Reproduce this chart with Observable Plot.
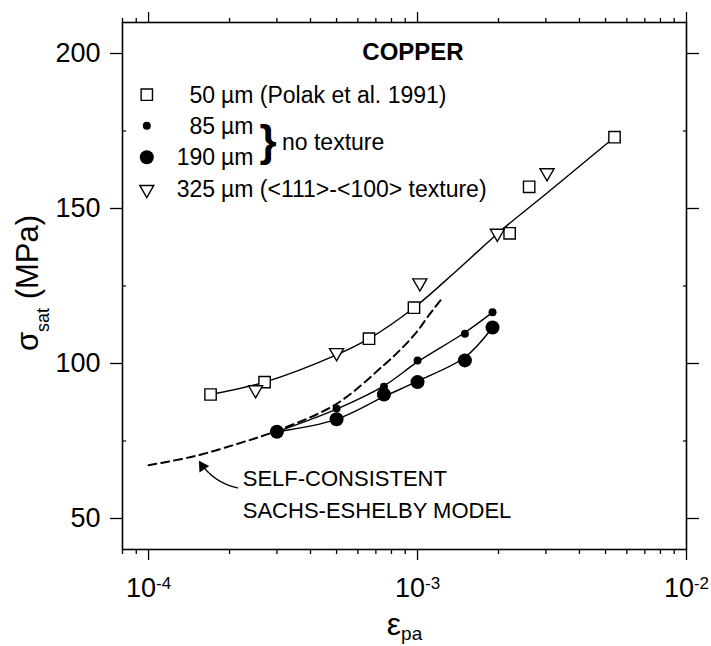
<!DOCTYPE html>
<html><head><meta charset="utf-8">
<script src="https://cdn.jsdelivr.net/npm/d3@7"></script>
<script src="https://cdn.jsdelivr.net/npm/@observablehq/plot@0.6"></script>
<style>body{margin:0;background:#fff} svg{display:block}</style>
</head><body><div id="chart"></div>
<script>
// ---- tick values ----
const xMajorTicks = [1e-4, 1e-3, 1e-2];
const xMinorTicks = [8e-5, 9e-5, 2e-4, 3e-4, 4e-4, 5e-4, 6e-4, 7e-4, 8e-4, 9e-4,
                     2e-3, 3e-3, 4e-3, 5e-3, 6e-3, 7e-3, 8e-3, 9e-3];
const yMajorTicks = [50, 100, 150, 200];
const yMinorTicks = [75, 125, 175];

// ---- measured data ----
const sq50X  = [1.7e-4, 2.7e-4, 6.6e-4, 9.7e-4, 2.2e-3, 2.6e-3, 5.4e-3];
const sq50Y  = [90, 94, 108, 118, 142, 157, 173];
const tri325X = [2.5e-4, 5.0e-4, 1.02e-3, 1.98e-3, 3.03e-3];
const tri325Y = [91.5, 103.5, 126, 142, 161.5];
const dot85X = [5e-4, 7.5e-4, 1e-3, 1.5e-3, 1.9e-3];
const dot85Y = [85.5, 92.5, 101, 109.6, 116.5];
const dot190X = [3e-4, 5e-4, 7.5e-4, 1e-3, 1.5e-3, 1.9e-3];
const dot190Y = [78, 82, 90, 94, 101, 111.6];

// ---- fitted curves ----
const fitAX = [1.7e-4, 2.7e-4, 5e-4, 6.6e-4, 9.7e-4, 1.4e-3, 2.07e-3, 3.0e-3, 5.4e-3];
const fitAY = [90, 94, 102.8, 108, 118, 130, 143.3, 154.7, 173];
const fitBX = [3e-4, 5e-4, 7.5e-4, 1e-3, 1.5e-3, 1.9e-3];
const fitBY = [78, 85.3, 92.8, 100.5, 110, 116.5];
const fitCX = [3e-4, 5e-4, 7.5e-4, 1e-3, 1.5e-3, 1.9e-3];
const fitCY = [78, 82, 89.3, 94.3, 102, 111.6];

// ---- self-consistent Sachs-Eshelby model (dashed) ----
const modelX = [1e-4, 1.48e-4, 2.2e-4, 3e-4, 5e-4, 7.5e-4, 8.9e-4, 1e-3, 1.09e-3, 1.22e-3];
const modelY = [67.2, 70.1, 74.4, 78.3, 87, 99.5, 105.6, 110.5, 115, 120.5];

// ---- texts ----
const titleText = "COPPER";
const legendNumbers = ["50", "85", "190", "325"];
const legendRest = ["µm (Polak et al. 1991)", "µm", "µm", "µm (<111>-<100> texture)"];
const legendSymbols = ["square", "smalldot", "bigdot", "triangle"];
const braceText = "no texture";
const annotationLines = ["SELF-CONSISTENT", "SACHS-ESHELBY MODEL"];

// ---- annotation anchors (data units) ----
const annotationLineY = [62.7, 52.4];
const annotationX = 2.24e-4;
const arrowFrom = {x: 2.14e-4, y: 59.9};
const arrowTo = {x: 1.55e-4, y: 68.3};
const arrowHead = {x: 1.587e-4, y: 66.8, rotate: -33};

const zip = (xs, ys) => xs.map((x, i) => ({x, y: ys[i]}));
const FONT = "Liberation Sans, Arial, Helvetica, sans-serif";

const W = 711, H = 646;
const mL = 122, mR = 25, mT = 22, mB = 97;

// legend layout (pixels from frame top-left)
const legTextDy = [73.3, 103.9, 135.6, 166.8];
const legSymDy = [72.2, 103.2, 134.7, 167];
const symDx = 24.3, numDx = 92.5, restDx = 98.5;
const LF = 23;

const legendMarks = [];
legendSymbols.forEach((s, i) => {
  const base = {frameAnchor: "top-left", dx: symDx, dy: legSymDy[i]};
  if (s === "square") legendMarks.push(Plot.dot([0], {...base, symbol: "square", r: 6.4, fill: "white", stroke: "black", strokeWidth: 1.4}));
  if (s === "smalldot") legendMarks.push(Plot.dot([0], {...base, r: 4, fill: "black", stroke: "none"}));
  if (s === "bigdot") legendMarks.push(Plot.dot([0], {...base, r: 7, fill: "black", stroke: "none"}));
  if (s === "triangle") legendMarks.push(Plot.dot([0], {...base, symbol: "triangle", rotate: 180, r: 5.2, fill: "white", stroke: "black", strokeWidth: 1.4}));
  legendMarks.push(Plot.text([legendNumbers[i]], {frameAnchor: "top-left", dx: numDx, dy: legTextDy[i], lineAnchor: "middle", textAnchor: "end", fontSize: LF}));
  legendMarks.push(Plot.text([legendRest[i]], {frameAnchor: "top-left", dx: restDx, dy: legTextDy[i], lineAnchor: "middle", textAnchor: "start", fontSize: LF}));
});
legendMarks.push(Plot.text(["}"], {frameAnchor: "top-left", dx: 145.5, dy: 119.3, lineAnchor: "middle", textAnchor: "middle", fontSize: 44, fontWeight: "bold"}));
legendMarks.push(Plot.text([braceText], {frameAnchor: "top-left", dx: 159.5, dy: 120.6, lineAnchor: "middle", textAnchor: "start", fontSize: LF}));

const chart = Plot.plot({
  width: W, height: H,
  marginLeft: mL, marginRight: mR, marginTop: mT, marginBottom: mB,
  style: {fontFamily: FONT, fontSize: "27px", color: "black", background: "white"},
  x: {type: "log", domain: [8e-5, 1e-2]},
  y: {domain: [40, 210]},
  marks: [
    // axes
    Plot.axisX(xMinorTicks, {anchor: "bottom", tickSize: 5, tickFormat: null, text: null, strokeWidth: 1.3, label: null}),
    Plot.axisX(xMinorTicks, {anchor: "top", tickSize: 5, tickFormat: null, text: null, strokeWidth: 1.3, label: null}),
    Plot.axisX(xMajorTicks, {anchor: "bottom", tickSize: 11, tickPadding: 17, strokeWidth: 1.3, fontSize: 27, label: null,
      tickFormat: d => "10^" + Math.round(Math.log10(d))}),
    Plot.axisX(xMajorTicks, {anchor: "top", tickSize: 11, text: null, tickFormat: null, strokeWidth: 1.3, label: null}),
    Plot.axisY(yMajorTicks, {anchor: "left", tickSize: 12, tickPadding: 10, fontSize: 27, strokeWidth: 1.3, label: null}),
    Plot.axisY(yMajorTicks, {anchor: "right", tickSize: 12, text: null, tickFormat: null, strokeWidth: 1.3, label: null}),
    Plot.axisY(yMinorTicks, {anchor: "left", tickSize: -4, text: null, tickFormat: null, strokeWidth: 1.2, label: null}),
    Plot.axisY(yMinorTicks, {anchor: "right", tickSize: -4, text: null, tickFormat: null, strokeWidth: 1.2, label: null}),
    Plot.frame({stroke: "black", strokeWidth: 1.6}),

    // model and fits
    Plot.line(zip(modelX, modelY), {x: "x", y: "y", curve: "catmull-rom", stroke: "black", strokeWidth: 2, strokeDasharray: "8,5"}),
    Plot.line(zip(fitAX, fitAY), {x: "x", y: "y", curve: "catmull-rom", stroke: "black", strokeWidth: 1.4}),
    Plot.line(zip(fitBX, fitBY), {x: "x", y: "y", curve: "catmull-rom", stroke: "black", strokeWidth: 1.4}),
    Plot.line(zip(fitCX, fitCY), {x: "x", y: "y", curve: "catmull-rom", stroke: "black", strokeWidth: 1.4}),

    // data
    Plot.dot(zip(sq50X, sq50Y), {x: "x", y: "y", symbol: "square", r: 6.4, fill: "white", stroke: "black", strokeWidth: 1.4}),
    Plot.dot(zip(tri325X, tri325Y), {x: "x", y: "y", symbol: "triangle", rotate: 180, r: 5.2, fill: "white", stroke: "black", strokeWidth: 1.4}),
    Plot.dot(zip(dot85X, dot85Y), {x: "x", y: "y", r: 4, fill: "black", stroke: "none"}),
    Plot.dot(zip(dot190X, dot190Y), {x: "x", y: "y", r: 7, fill: "black", stroke: "none"}),

    // annotation
    Plot.arrow([0], {x1: () => arrowFrom.x, y1: () => arrowFrom.y, x2: () => arrowTo.x, y2: () => arrowTo.y,
      bend: 22, headLength: 0, strokeWidth: 1.4, stroke: "black"}),
    Plot.dot([0], {x: () => arrowHead.x, y: () => arrowHead.y, symbol: "triangle", r: 4.3, rotate: arrowHead.rotate, fill: "black", stroke: "none"}),
    Plot.text(annotationLines, {x: () => annotationX, y: (d, i) => annotationLineY[i], textAnchor: "start", fontSize: 22}),

    // title and legend
    Plot.text([titleText], {frameAnchor: "top", dx: 8.5, dy: 29.6, lineAnchor: "middle", fontSize: 24, fontWeight: "bold"}),
    ...legendMarks
  ]
});

const svg = d3.select(chart);
// superscripts on x tick labels
svg.selectAll('g[aria-label="x-axis tick label"] text').each(function() {
  const t = d3.select(this);
  const s = t.text();
  if (!s.includes("^")) return;
  const [b, e] = s.split("^");
  t.text(null);
  t.append("tspan").text(b);
  t.append("tspan").attr("font-size", 17).attr("dy", -8).text(e);
});
// axis titles
const g = svg.append("g").attr("font-family", FONT).attr("fill", "black");
const xl = g.append("text").attr("x", 404.5).attr("y", 635).attr("text-anchor", "middle").attr("font-size", 32);
xl.append("tspan").text("ε");
xl.append("tspan").attr("font-size", 19).attr("dy", 5).text("pa");
const yl = g.append("text").attr("transform", "translate(38,283) rotate(-90)").attr("text-anchor", "middle").attr("font-size", 31);
yl.append("tspan").text("σ");
yl.append("tspan").attr("font-size", 18).attr("dy", 11).text("sat");
yl.append("tspan").attr("dy", -11).text(" (MPa)");

document.getElementById("chart").appendChild(chart);
</script>
</body></html>
